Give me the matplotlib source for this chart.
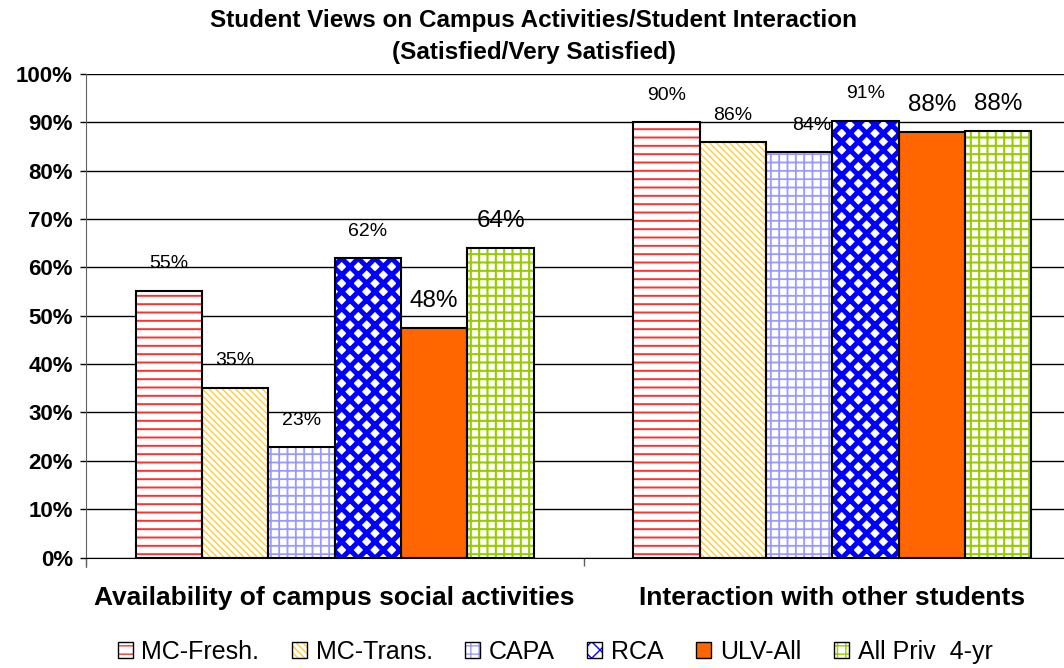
import numpy as np
import matplotlib
matplotlib.use('Agg')
import matplotlib.pyplot as plt
from matplotlib.ticker import PercentFormatter
from matplotlib.legend_handler import HandlerTuple

plt.rcParams['font.family'] = ['Liberation Sans', 'DejaVu Sans']

categories = ['Availability of campus social activities', 'Interaction with other students']
series = ['MC-Fresh.', 'MC-Trans.', 'CAPA', 'RCA', 'ULV-All', 'All Priv  4-yr']
mc_fresh = [0.552, 0.900]
mc_trans = [0.351, 0.859]
capa = [0.228, 0.838]
rca = [0.619, 0.903]
ulv_all = [0.474, 0.880]
all_priv = [0.640, 0.882]
labels = [['55%', '90%'], ['35%', '86%'], ['23%', '84%'],
          ['62%', '91%'], ['48%', '88%'], ['64%', '88%']]

values = [mc_fresh, mc_trans, capa, rca, ulv_all, all_priv]
# face, hatch colour, hatch, hatch width, label font size
styles = [
    ('white', '#FF3030', '--', 1.4, 14),
    ('white', '#FFCC33', '\\\\\\\\\\', 1.0, 14),
    ('white', '#9999FF', '++', 1.3, 14),
    ('white', '#0000FF', 'xx', 3.6, 14),
    ('#FF6600', '#FF6600', '', 1.0, 17.5),
    ('white', '#99CC00', '++', 1.5, 17.5),
]

fig = plt.figure(figsize=(10.64, 6.68), dpi=100)
ax = fig.add_axes([86 / 1064, 110.5 / 668, 995 / 1064, 483.5 / 668])

x = np.arange(len(categories))
w = 0.8 / len(series)
handles = []
for i, (vals, st) in enumerate(zip(values, styles)):
    face, hcol, hatch, hw, fs = st
    pos = x - 0.4 + w * (i + 0.5)
    with plt.rc_context({'hatch.linewidth': hw}):
        ax.bar(pos, vals, w, color=face, edgecolor=hcol, hatch=hatch,
               linewidth=0, zorder=3)
    ax.bar(pos, vals, w, facecolor='none', edgecolor='black',
           linewidth=1.5, zorder=4)
    for p, v, t in zip(pos, vals, labels[i]):
        dx = 9 if t == '84%' else 0
        ax.annotate(t, (p, v), xytext=(dx, 19.5), textcoords='offset points',
                    ha='center', va='center', fontsize=fs, zorder=5)
    with plt.rc_context({'hatch.linewidth': min(hw, 1.2)}):
        inner = plt.Rectangle((0, 0), 1, 1, facecolor=face, edgecolor=hcol,
                              hatch=hatch, linewidth=0)
    outer = plt.Rectangle((0, 0), 1, 1, facecolor='none', edgecolor='black',
                          linewidth=1.0)
    handles.append((inner, outer))

ax.set_xlim(-0.5, 1.5)
ax.set_ylim(0, 1.0)
ax.set_yticks(np.arange(0, 1.01, 0.1))
ax.yaxis.set_major_formatter(PercentFormatter(1.0, decimals=0))
ax.yaxis.grid(True, color='black', linewidth=1.0, zorder=1)
ax.set_xticks([-0.5, 0.5, 1.5])
ax.set_xticklabels([])
ax.tick_params(axis='x', length=6, width=1, color='#606060', direction='out')
ax.tick_params(axis='y', length=4.5, width=1, color='black', direction='out',
               labelsize=16, pad=5)
for lab in ax.get_yticklabels():
    lab.set_fontweight('bold')
for s in ['top', 'right']:
    ax.spines[s].set_visible(False)
ax.spines['left'].set_color('#606060')
ax.spines['left'].set_bounds(-0.02, 1.0)
ax.spines['bottom'].set_color('black')
for xi, c in zip(x, categories):
    ax.text(xi, -0.083, c, transform=ax.get_xaxis_transform(), ha='center',
            va='center', fontsize=19, fontweight='bold')

fig.text(534 / 1064, 1 - 36 / 668,
         'Student Views on Campus Activities/Student Interaction\n(Satisfied/Very Satisfied)',
         ha='center', va='center', fontsize=17.5, fontweight='bold', linespacing=1.5)

leg = fig.legend(handles, series, loc='center', bbox_to_anchor=(555 / 1064, 1 - 652 / 668),
                 ncol=6, frameon=False, fontsize=18, handlelength=0.6, handleheight=0.6,
                 handletextpad=0.35, columnspacing=1.3,
                 handler_map={tuple: HandlerTuple(ndivide=1, pad=0)})

fig.savefig('out.png', dpi=100)
